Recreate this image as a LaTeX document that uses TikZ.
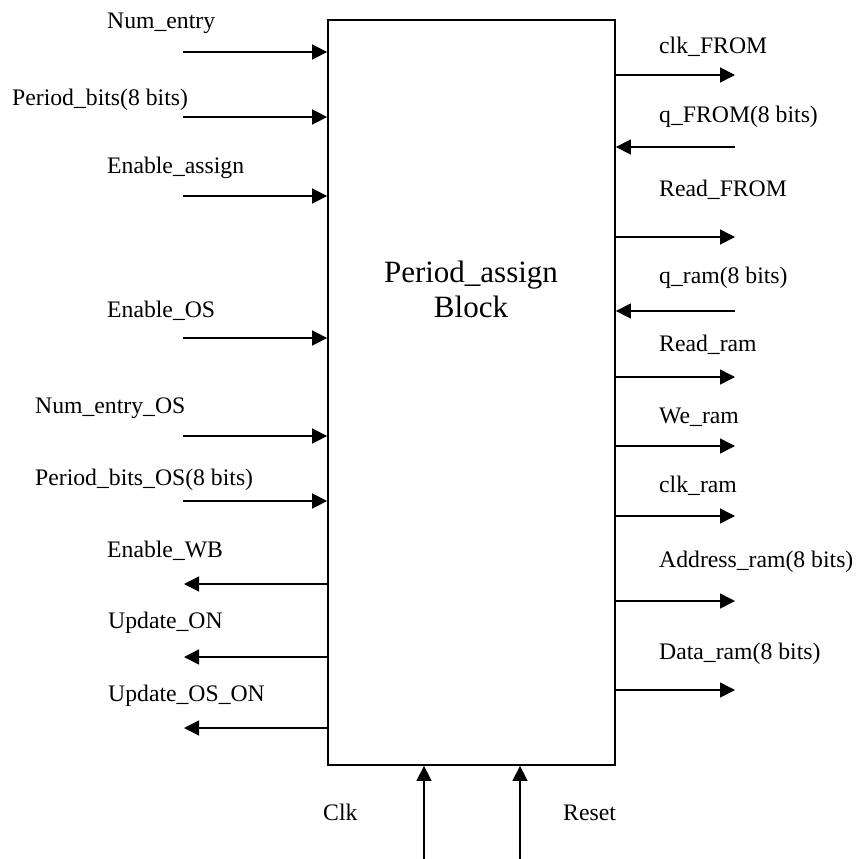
\documentclass[tikz,border=0pt]{standalone}
\usepackage{fontspec}
\setmainfont{Liberation Serif}
\usetikzlibrary{arrows.meta}
\begin{document}
\begin{tikzpicture}[x=1pt,y=-1pt,
  sig/.style={line width=1.6pt,-{Triangle[length=15pt,width=15pt]}},
  lbl/.style={anchor=base west,inner sep=0pt,font=\fontsize{23.7}{28}\selectfont},
  ttl/.style={anchor=base,inner sep=0pt,font=\fontsize{31}{35}\selectfont},
  blockbox/.style={draw,line width=1.8pt,minimum width=287pt,minimum height=745pt,inner sep=0pt}]
\useasboundingbox (0,0) rectangle (856,859);

% the block
\node[blockbox] (blk) at (471.5,392.5) {};
\node[ttl] (t1) at (471,282) {Period\_assign};
\node[ttl] (t2) at (471,317) {Block};

% free ends of the left-hand signals
\coordinate (numentry)  at (183,52);
\coordinate (perbits)   at (183,117);
\coordinate (enassign)  at (183,196);
\coordinate (enos)      at (183,338);
\coordinate (numos)     at (183,436);
\coordinate (perbitsos) at (183,501);
\coordinate (enwb)      at (184,584);
\coordinate (updon)     at (184,657);
\coordinate (updoson)   at (184,728);

% left-hand labels
\node[lbl] (l1) at (107,29)  {Num\_entry};
\node[lbl] (l2) at (12,105)  {Period\_bits(8 bits)};
\node[lbl] (l3) at (107,173) {Enable\_assign};
\node[lbl] (l4) at (107,317) {Enable\_OS};
\node[lbl] (l5) at (35,413)  {Num\_entry\_OS};
\node[lbl] (l6) at (35,485)  {Period\_bits\_OS(8 bits)};
\node[lbl] (l7) at (107,557) {Enable\_WB};
\node[lbl] (l8) at (108,628) {Update\_ON};
\node[lbl] (l9) at (108,701) {Update\_OS\_ON};

% left-hand inputs
\foreach \c in {numentry,perbits,enassign,enos,numos,perbitsos}
  \draw[sig] (\c) -- (\c -| blk.west);
% left-hand outputs
\foreach \c in {enwb,updon,updoson}
  \draw[sig] (\c -| blk.west) -- (\c);

% free ends of the right-hand signals
\coordinate (clkfrom)  at (735,75);
\coordinate (qfrom)    at (735,147);
\coordinate (readfrom) at (735,237);
\coordinate (qram)     at (735,311);
\coordinate (readram)  at (735,377);
\coordinate (weram)    at (735,446);
\coordinate (clkram)   at (735,516);
\coordinate (addrram)  at (735,601);
\coordinate (dataram)  at (735,690);

% right-hand labels
\node[lbl] (r1) at (659,53)  {clk\_FROM};
\node[lbl] (r2) at (659,122) {q\_FROM(8 bits)};
\node[lbl] (r3) at (659,196) {Read\_FROM};
\node[lbl] (r4) at (659,283) {q\_ram(8 bits)};
\node[lbl] (r5) at (659,351) {Read\_ram};
\node[lbl] (r6) at (659,423) {We\_ram};
\node[lbl] (r7) at (659,492) {clk\_ram};
\node[lbl] (r8) at (659,567) {Address\_ram(8 bits)};
\node[lbl] (r9) at (659,659) {Data\_ram(8 bits)};

% right-hand outputs
\foreach \c in {clkfrom,readfrom,readram,weram,clkram,addrram,dataram}
  \draw[sig] (\c -| blk.east) -- (\c);
% right-hand inputs
\foreach \c in {qfrom,qram}
  \draw[sig] (\c) -- (\c -| blk.east);

% bottom inputs
\coordinate (clkin)   at (424,859);
\coordinate (resetin) at (520,859);
\draw[sig] (clkin) -- (clkin |- blk.south);
\draw[sig] (resetin) -- (resetin |- blk.south);
\node[lbl] (b1) at (323,820) {Clk};
\node[lbl] (b2) at (563,820) {Reset};
\end{tikzpicture}
\end{document}
